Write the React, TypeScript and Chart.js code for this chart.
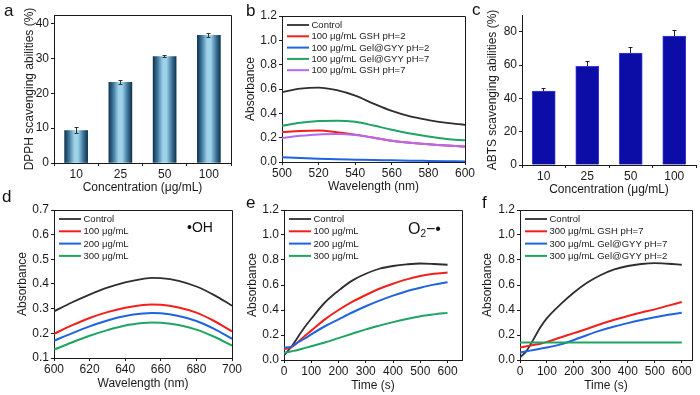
import React, { useEffect, useRef } from "react";
import { Chart, registerables } from "chart.js";

Chart.register(...registerables);

const FONT_FAMILY = '"Liberation Sans", Arial, Helvetica, sans-serif';
const INK = "#1a1a1a";

// ---------------- data ----------------
// panel a
const concentrationLabels = ["10", "25", "50", "100"];
const dpphValues = [9.3, 23.1, 30.5, 36.6];
const dpphErrors = [0.8, 0.5, 0.3, 0.6];
const dpphTicks = [0, 10, 20, 30, 40];

// panel c
const abtsValues = [44.4, 59.2, 67.1, 77.4];
const abtsErrors = [1.6, 3.0, 3.6, 3.4];
const abtsTicks = [0, 20, 40, 60, 80];

// panel b
const bWavelengths = [500, 510, 520, 530, 540, 550, 560, 570, 580, 590, 600];
const bControl = [0.575, 0.603, 0.612, 0.59, 0.545, 0.48, 0.42, 0.375, 0.345, 0.322, 0.305];
const bGsh2 = [0.246, 0.255, 0.258, 0.245, 0.225, 0.2, 0.175, 0.158, 0.145, 0.135, 0.128];
const bGel2 = [0.04, 0.033, 0.027, 0.022, 0.019, 0.016, 0.014, 0.011, 0.009, 0.007, 0.005];
const bGel7 = [0.297, 0.322, 0.337, 0.34, 0.33, 0.3, 0.265, 0.235, 0.21, 0.19, 0.178];
const bGsh7 = [0.197, 0.215, 0.227, 0.23, 0.222, 0.2, 0.175, 0.158, 0.145, 0.135, 0.128];
const bXTicks = [500, 520, 540, 560, 580, 600];
const absTicks = [0, 0.2, 0.4, 0.6, 0.8, 1.0, 1.2];

// panel d
const dWavelengths = [600, 610, 620, 630, 640, 650, 655, 660, 670, 680, 690, 700];
const dControl = [0.289, 0.325, 0.357, 0.385, 0.407, 0.421, 0.425, 0.424, 0.413, 0.39, 0.355, 0.312];
const d100 = [0.198, 0.232, 0.262, 0.286, 0.304, 0.315, 0.317, 0.316, 0.305, 0.284, 0.25, 0.208];
const d200 = [0.17, 0.2, 0.228, 0.252, 0.27, 0.28, 0.282, 0.281, 0.27, 0.25, 0.218, 0.178];
const d300 = [0.134, 0.163, 0.19, 0.213, 0.232, 0.242, 0.244, 0.243, 0.234, 0.215, 0.186, 0.15];
const dXTicks = [600, 620, 640, 660, 680, 700];
const dYTicks = [0.1, 0.2, 0.3, 0.4, 0.5, 0.6, 0.7];

// panels e, f
const timePoints = [0, 25, 50, 75, 100, 150, 200, 250, 300, 350, 400, 450, 500, 550, 600];
const eControl = [0.04, 0.1, 0.18, 0.26, 0.33, 0.46, 0.555, 0.635, 0.69, 0.73, 0.752, 0.765, 0.772, 0.768, 0.762];
const e100 = [0.085, 0.1, 0.14, 0.19, 0.235, 0.325, 0.4, 0.465, 0.52, 0.57, 0.61, 0.645, 0.672, 0.69, 0.7];
const e200 = [0.1, 0.105, 0.14, 0.17, 0.205, 0.27, 0.325, 0.38, 0.43, 0.475, 0.515, 0.55, 0.578, 0.603, 0.622];
const e300 = [0.055, 0.068, 0.08, 0.095, 0.11, 0.14, 0.175, 0.21, 0.245, 0.275, 0.303, 0.328, 0.35, 0.365, 0.377];
const fControl = [0.02, 0.075, 0.165, 0.26, 0.335, 0.445, 0.54, 0.62, 0.68, 0.725, 0.752, 0.768, 0.775, 0.77, 0.762];
const fGsh7 = [0.1, 0.11, 0.12, 0.13, 0.145, 0.18, 0.215, 0.25, 0.288, 0.322, 0.352, 0.38, 0.405, 0.435, 0.464];
const fGel7 = [0.06, 0.07, 0.08, 0.09, 0.1, 0.125, 0.16, 0.2, 0.237, 0.268, 0.295, 0.32, 0.342, 0.362, 0.378];
const fGel2 = [0.14, 0.14, 0.14, 0.14, 0.14, 0.14, 0.14, 0.14, 0.14, 0.14, 0.14, 0.14, 0.14, 0.14, 0.14];
const timeTicks = [0, 100, 200, 300, 400, 500, 600];

// ---------------- styling ----------------
const BLACK = "#2e2e2e";
const RED = "#f2201c";
const BLUE = "#1f63e0";
const GREEN = "#1fa463";
const PURPLE = "#b46af0";

type Geo = {
  left: number; top: number; width: number; height: number;
  l: number; r: number; t: number; b: number;
  yTitleX: number; xTitleY: number;
};

type Series = { label: string; color: string; xs: number[]; ys: number[]; width?: number };

const alignPx = (p: number) => Math.round(p - 0.5) + 0.5;

function makeScales(p: {
  geo: Geo; xType: "linear" | "category"; xMin?: number; xMax?: number; xTicks?: number[]; xTitle: string;
  yMin: number; yMax: number; yTicks: number[]; yTitle: string; yDec: number;
}) {
  const g = p.geo;
  const yWidth = g.l - g.left;
  const xHeight = g.top + g.height - g.b;
  const tickFont = { family: FONT_FAMILY, size: 12 };
  const titleFont = { family: FONT_FAMILY, size: 12 };
  const grid = { display: true, drawOnChartArea: false, drawTicks: true, tickLength: 3, tickColor: INK, tickWidth: 1 };
  const x: any = {
    type: p.xType,
    position: "bottom",
    grid,
    border: { display: true, color: INK, width: 1 },
    ticks: { font: tickFont, color: INK, padding: 1, maxRotation: 0, autoSkip: false },
    title: {
      display: true, text: p.xTitle, font: titleFont, color: INK,
      padding: { top: 0, bottom: Math.max(0, g.top + g.height - g.xTitleY - 7.2) },
    },
    afterFit: (s: any) => { s.height = xHeight; },
  };
  if (p.xType === "linear") {
    x.min = p.xMin;
    x.max = p.xMax;
    x.afterBuildTicks = (s: any) => { s.ticks = (p.xTicks || []).map((v) => ({ value: v })); };
    x.ticks.callback = (v: any) => String(v);
  }
  const y: any = {
    type: "linear",
    position: "left",
    min: p.yMin,
    max: p.yMax,
    grid,
    border: { display: true, color: INK, width: 1 },
    ticks: { font: tickFont, color: INK, padding: 2, callback: (v: any) => Number(v).toFixed(p.yDec) },
    afterBuildTicks: (s: any) => { s.ticks = p.yTicks.map((v) => ({ value: v })); },
    title: {
      display: true, text: p.yTitle, font: titleFont, color: INK,
      padding: { top: Math.max(0, g.yTitleX - g.left - 7.2), bottom: 0 },
    },
    afterFit: (s: any) => { s.width = yWidth; },
  };
  return { x, y };
}

function layoutFor(g: Geo) {
  return {
    autoPadding: false,
    padding: { left: 0, top: g.t - g.top, right: g.left + g.width - g.r, bottom: 0 },
  };
}

function framePlugin(opts: {
  box: boolean;
  legend?: { label: string; color: string; width: number }[];
  rowGap?: number;
  cylinder?: boolean;
  errors?: { values: number[]; errs: number[]; color: string; upperOnly: boolean; cap: number };
}) {
  return {
    id: "frame",
    beforeDatasetsDraw(chart: any) {
      if (!opts.cylinder) return;
      const meta = chart.getDatasetMeta(0);
      meta.data.forEach((el: any) => {
        const half = (el.width || 23) / 2;
        if (!isFinite(el.x)) return;
        const g = chart.ctx.createLinearGradient(el.x - half, 0, el.x + half, 0);
        g.addColorStop(0, "#12344f");
        g.addColorStop(0.18, "#3b7398");
        g.addColorStop(0.42, "#9ed2e9");
        g.addColorStop(0.58, "#9ed2e9");
        g.addColorStop(0.82, "#3b7398");
        g.addColorStop(1, "#12344f");
        el.options = Object.assign({}, el.options, { backgroundColor: g });
      });
    },
    afterDatasetsDraw(chart: any) {
      const e = opts.errors;
      if (!e) return;
      const ctx = chart.ctx;
      const xs = chart.scales.x;
      const ys = chart.scales.y;
      ctx.save();
      ctx.strokeStyle = e.color;
      ctx.lineWidth = 1;
      e.values.forEach((v, i) => {
        const cx = alignPx(xs.getPixelForValue(i));
        const yTop = ys.getPixelForValue(v + e.errs[i]);
        const yBot = ys.getPixelForValue(e.upperOnly ? v : v - e.errs[i]);
        ctx.beginPath();
        ctx.moveTo(cx, yTop);
        ctx.lineTo(cx, yBot);
        ctx.moveTo(cx - e.cap / 2, alignPx(yTop));
        ctx.lineTo(cx + e.cap / 2, alignPx(yTop));
        if (!e.upperOnly) {
          ctx.moveTo(cx - e.cap / 2, alignPx(yBot));
          ctx.lineTo(cx + e.cap / 2, alignPx(yBot));
        }
        ctx.stroke();
      });
      ctx.restore();
    },
    afterDraw(chart: any) {
      const ctx = chart.ctx;
      const a = chart.chartArea;
      ctx.save();
      if (opts.box) {
        ctx.strokeStyle = INK;
        ctx.lineWidth = 1;
        ctx.beginPath();
        ctx.moveTo(alignPx(a.left), alignPx(a.top));
        ctx.lineTo(alignPx(a.right), alignPx(a.top));
        ctx.lineTo(alignPx(a.right), alignPx(a.bottom));
        ctx.stroke();
      }
      if (opts.legend) {
        const gap = opts.rowGap || 12;
        ctx.font = `9.5px ${FONT_FAMILY}`;
        ctx.textBaseline = "middle";
        ctx.textAlign = "left";
        opts.legend.forEach((it, i) => {
          const y = a.top + 9 + i * gap;
          ctx.strokeStyle = it.color;
          ctx.lineWidth = it.width;
          ctx.beginPath();
          ctx.moveTo(a.left + 5, y);
          ctx.lineTo(a.left + 27, y);
          ctx.stroke();
          ctx.fillStyle = "#222";
          ctx.fillText(it.label, a.left + 29.5, y + 0.5);
        });
      }
      ctx.restore();
    },
  };
}

function lineChartConfig(p: {
  geo: Geo; series: Series[]; xMin: number; xMax: number; xTicks: number[]; xTitle: string;
  yMin: number; yMax: number; yTicks: number[]; yTitle: string; rowGap: number; drawOrder?: number[];
}) {
  const scales = makeScales({
    geo: p.geo, xType: "linear", xMin: p.xMin, xMax: p.xMax, xTicks: p.xTicks, xTitle: p.xTitle,
    yMin: p.yMin, yMax: p.yMax, yTicks: p.yTicks, yTitle: p.yTitle, yDec: 1,
  });
  return {
    type: "line",
    data: {
      datasets: p.series.map((s, i) => ({
        label: s.label,
        data: s.xs.map((x, j) => ({ x, y: s.ys[j] })),
        borderColor: s.color,
        backgroundColor: s.color,
        borderWidth: s.width || 2,
        pointRadius: 0,
        tension: 0.4,
        cubicInterpolationMode: "monotone",
        fill: false,
        order: p.drawOrder ? p.drawOrder[i] : p.series.length - i,
      })),
    },
    options: {
      animation: false,
      responsive: false,
      maintainAspectRatio: false,
      layout: layoutFor(p.geo),
      scales,
      plugins: { legend: { display: false }, tooltip: { enabled: false } },
    },
    plugins: [
      framePlugin({
        box: true,
        rowGap: p.rowGap,
        legend: p.series.map((s) => ({ label: s.label, color: s.color, width: s.width || 2 })),
      }),
    ],
  };
}

// ---------------- geometry ----------------
const geoA: Geo = { left: 0, top: 0, width: 238, height: 197, l: 54, r: 231, t: 15, b: 163, yTitleX: 30, xTitleY: 188 };
const geoB: Geo = { left: 238, top: 0, width: 242, height: 197, l: 282, r: 465, t: 16, b: 162, yTitleX: 251, xTitleY: 187 };
const geoC: Geo = { left: 480, top: 0, width: 220, height: 197, l: 522, r: 696, t: 15, b: 165, yTitleX: 493, xTitleY: 190 };
const geoD: Geo = { left: 0, top: 197, width: 244, height: 198, l: 54, r: 232, t: 210, b: 358, yTitleX: 23, xTitleY: 384 };
const geoE: Geo = { left: 240, top: 197, width: 240, height: 198, l: 284, r: 462, t: 210, b: 360, yTitleX: 253, xTitleY: 386 };
const geoF: Geo = { left: 480, top: 197, width: 220, height: 198, l: 520, r: 692, t: 210, b: 360, yTitleX: 488, xTitleY: 386 };

function barConfigA() {
  const scales = makeScales({
    geo: geoA, xType: "category", xTitle: "Concentration (μg/mL)",
    yMin: 0, yMax: 42.4, yTicks: dpphTicks, yTitle: "DPPH scavenging abilities (%)", yDec: 0,
  });
  return {
    type: "bar",
    data: {
      labels: concentrationLabels,
      datasets: [{ data: dpphValues, backgroundColor: "#5f9fc2", borderWidth: 0, barThickness: 23 }],
    },
    options: {
      animation: false, responsive: false, maintainAspectRatio: false,
      layout: layoutFor(geoA), scales,
      plugins: { legend: { display: false }, tooltip: { enabled: false } },
    },
    plugins: [framePlugin({ box: true, cylinder: true, errors: { values: dpphValues, errs: dpphErrors, color: "#333", upperOnly: false, cap: 4 } })],
  };
}

function barConfigC() {
  const scales = makeScales({
    geo: geoC, xType: "category", xTitle: "Concentration (μg/mL)",
    yMin: 0, yMax: 90, yTicks: abtsTicks, yTitle: "ABTS scavenging abilities (%)", yDec: 0,
  });
  return {
    type: "bar",
    data: {
      labels: concentrationLabels,
      datasets: [{ data: abtsValues, backgroundColor: "#0c0ca6", borderColor: "#3c3cdc", borderWidth: 1, barThickness: 23 }],
    },
    options: {
      animation: false, responsive: false, maintainAspectRatio: false,
      layout: layoutFor(geoC), scales,
      plugins: { legend: { display: false }, tooltip: { enabled: false } },
    },
    plugins: [framePlugin({ box: false, errors: { values: abtsValues, errs: abtsErrors, color: "#222", upperOnly: true, cap: 4 } })],
  };
}

const configB = () =>
  lineChartConfig({
    geo: geoB,
    series: [
      { label: "Control", color: BLACK, xs: bWavelengths, ys: bControl, width: 1.8 },
      { label: "100 μg/mL GSH pH=2", color: RED, xs: bWavelengths, ys: bGsh2 },
      { label: "100 μg/mL Gel@GYY pH=2", color: BLUE, xs: bWavelengths, ys: bGel2 },
      { label: "100 μg/mL Gel@GYY pH=7", color: GREEN, xs: bWavelengths, ys: bGel7 },
      { label: "100 μg/mL GSH pH=7", color: PURPLE, xs: bWavelengths, ys: bGsh7 },
    ],
    drawOrder: [1, 5, 3, 2, 4],
    xMin: 500, xMax: 600, xTicks: bXTicks, xTitle: "Wavelength (nm)",
    yMin: 0, yMax: 1.2, yTicks: absTicks, yTitle: "Absorbance", rowGap: 11.3,
  });

const configD = () =>
  lineChartConfig({
    geo: geoD,
    series: [
      { label: "Control", color: BLACK, xs: dWavelengths, ys: dControl, width: 1.8 },
      { label: "100 μg/mL", color: RED, xs: dWavelengths, ys: d100 },
      { label: "200 μg/mL", color: BLUE, xs: dWavelengths, ys: d200 },
      { label: "300 μg/mL", color: GREEN, xs: dWavelengths, ys: d300 },
    ],
    xMin: 600, xMax: 700, xTicks: dXTicks, xTitle: "Wavelength (nm)",
    yMin: 0.1, yMax: 0.7, yTicks: dYTicks, yTitle: "Absorbance", rowGap: 12.3,
  });

const configE = () =>
  lineChartConfig({
    geo: geoE,
    series: [
      { label: "Control", color: BLACK, xs: timePoints, ys: eControl, width: 1.8 },
      { label: "100 μg/mL", color: RED, xs: timePoints, ys: e100 },
      { label: "200 μg/mL", color: BLUE, xs: timePoints, ys: e200 },
      { label: "300 μg/mL", color: GREEN, xs: timePoints, ys: e300 },
    ],
    xMin: 0, xMax: 653, xTicks: timeTicks, xTitle: "Time (s)",
    yMin: 0, yMax: 1.2, yTicks: absTicks, yTitle: "Absorbance", rowGap: 12.3,
  });

const configF = () =>
  lineChartConfig({
    geo: geoF,
    series: [
      { label: "Control", color: BLACK, xs: timePoints, ys: fControl, width: 1.8 },
      { label: "300 μg/mL GSH pH=7", color: RED, xs: timePoints, ys: fGsh7 },
      { label: "300 μg/mL Gel@GYY pH=7", color: BLUE, xs: timePoints, ys: fGel7 },
      { label: "300 μg/mL Gel@GYY pH=2", color: GREEN, xs: timePoints, ys: fGel2 },
    ],
    xMin: 0, xMax: 638, xTicks: timeTicks, xTitle: "Time (s)",
    yMin: 0, yMax: 1.2, yTicks: absTicks, yTitle: "Absorbance", rowGap: 12.3,
  });

function Panel({ geo, build }: { geo: Geo; build: () => any }) {
  const ref = useRef<HTMLCanvasElement | null>(null);
  useEffect(() => {
    if (!ref.current) return;
    const chart = new Chart(ref.current, build());
    return () => chart.destroy();
  }, []);
  return (
    <canvas
      ref={ref}
      width={geo.width}
      height={geo.height}
      style={{ position: "absolute", left: geo.left, top: geo.top, width: geo.width, height: geo.height }}
    />
  );
}

const letterStyle = (left: number, top: number): React.CSSProperties => ({
  position: "absolute", left, top, fontFamily: FONT_FAMILY, fontSize: 17, lineHeight: "17px", color: "#111",
});

export default function App() {
  useEffect(() => {
    document.body.style.margin = "0";
  }, []);
  return (
    <div style={{ position: "absolute", left: 0, top: 0, width: 700, height: 395, background: "#fff", overflow: "hidden" }}>
      <Panel geo={geoA} build={barConfigA} />
      <Panel geo={geoB} build={configB} />
      <Panel geo={geoC} build={barConfigC} />
      <Panel geo={geoD} build={configD} />
      <Panel geo={geoE} build={configE} />
      <Panel geo={geoF} build={configF} />
      <div style={letterStyle(4, 2)}>a</div>
      <div style={letterStyle(246, 2)}>b</div>
      <div style={letterStyle(472, 1)}>c</div>
      <div style={letterStyle(2, 188)}>d</div>
      <div style={letterStyle(246, 194)}>e</div>
      <div style={letterStyle(482, 194)}>f</div>
      <div style={{ position: "absolute", left: 187, top: 220, fontFamily: FONT_FAMILY, fontSize: 14, lineHeight: "14px", color: "#111" }}>
        •OH
      </div>
      <div style={{ position: "absolute", left: 408, top: 221, fontFamily: FONT_FAMILY, fontSize: 16, lineHeight: "16px", color: "#111" }}>
        O<sub style={{ fontSize: 10, verticalAlign: "-3px" }}>2</sub>−•
      </div>
    </div>
  );
}
